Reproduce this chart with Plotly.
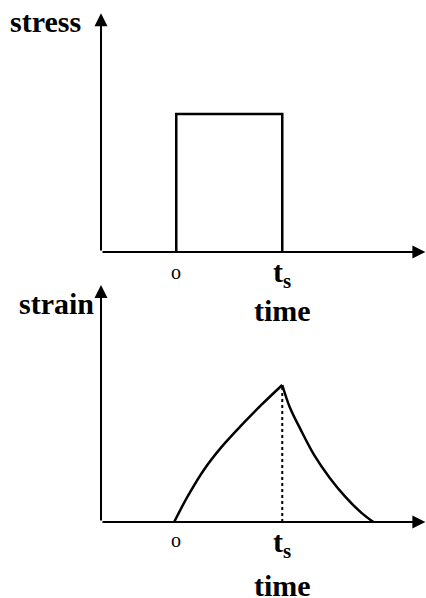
import plotly.graph_objects as go

# stress step (top panel)
t_stress = [0.71, 0.71, 1.71, 1.71]
stress = [0, 1, 1, 0]

# strain response (bottom panel)
t_rise = [0.69, 0.82, 0.97, 1.14, 1.33, 1.52, 1.71]
strain_rise = [0, 0.19, 0.38, 0.55, 0.71, 0.86, 1.0]
t_fall = [1.71, 1.78, 1.88, 2.01, 2.16, 2.31, 2.46, 2.57]
strain_fall = [1.0, 0.84, 0.68, 0.49, 0.32, 0.18, 0.065, 0]

t_on = 0.71
t_s = 1.71
tick_labels = ["o", "t<sub>s</sub>"]
y_names = ["stress", "strain"]
x_name = "time"

W, H = 426, 598
SERIF = "Liberation Serif"
BLACK = "black"

fig = go.Figure()

fig.add_trace(go.Scatter(x=t_stress, y=stress, mode="lines",
                         line=dict(color=BLACK, width=2.5),
                         xaxis="x", yaxis="y", hoverinfo="skip"))
fig.add_trace(go.Scatter(x=t_rise, y=strain_rise, mode="lines",
                         line=dict(color=BLACK, width=2.5, shape="spline", smoothing=1),
                         xaxis="x2", yaxis="y2", hoverinfo="skip"))
fig.add_trace(go.Scatter(x=t_fall, y=strain_fall, mode="lines",
                         line=dict(color=BLACK, width=2.5, shape="spline", smoothing=1),
                         xaxis="x2", yaxis="y2", hoverinfo="skip"))
fig.add_trace(go.Scatter(x=[t_s, t_s], y=[0, strain_rise[-1]], mode="lines",
                         line=dict(color=BLACK, width=2, dash="dot"),
                         xaxis="x2", yaxis="y2", hoverinfo="skip"))

x_dom = [101 / W, 1]
x_rng = [0, 325 / 106]
hidden = dict(showgrid=False, zeroline=False, showline=False,
              showticklabels=False, ticks="")

fig.update_layout(
    width=W, height=H,
    margin=dict(l=0, r=0, t=0, b=0),
    paper_bgcolor="white", plot_bgcolor="rgba(0,0,0,0)",
    showlegend=False,
    xaxis=dict(domain=x_dom, range=x_rng, anchor="y", **hidden),
    yaxis=dict(domain=[(H - 252) / H, 1], range=[0, 252 / 138], anchor="x", **hidden),
    xaxis2=dict(domain=x_dom, range=x_rng, anchor="y2", **hidden),
    yaxis2=dict(domain=[(H - 522) / H, (H - 280) / H], range=[0, 242 / 137], anchor="x2", **hidden),
)

ann = []
# axes drawn as arrows
for xr, yr in [("x", "y"), ("x2", "y2")]:
    ann.append(dict(x=3.06, y=0, ax=0, ay=0, xref=xr, yref=yr, axref=xr, ayref=yr,
                    text="", showarrow=True, arrowhead=2, arrowsize=1.3,
                    arrowwidth=2, arrowcolor=BLACK, standoff=0, startstandoff=0))
    ann.append(dict(x=0, y=1.73, ax=0, ay=0, xref=xr, yref=yr, axref=xr, ayref=yr,
                    text="", showarrow=True, arrowhead=2, arrowsize=1.3,
                    arrowwidth=2, arrowcolor=BLACK, standoff=0, startstandoff=0))

bold = dict(family=SERIF, size=30, color=BLACK)
# axis names
ann.append(dict(x=45 / W, y=1 - 22 / H, xref="paper", yref="paper", text="<b>%s</b>" % y_names[0],
                showarrow=False, font=bold, xanchor="center", yanchor="middle"))
ann.append(dict(x=56 / W, y=1 - 303 / H, xref="paper", yref="paper", text="<b>%s</b>" % y_names[1],
                showarrow=False, font=bold, xanchor="center", yanchor="middle"))

# time ticks and labels for each panel: (xref, y of "o", y of t_s, y of "time")
for xr, yo, yt, ytime in [("x", 272, 274, 310), ("x2", 540, 544, 585)]:
    ann.append(dict(x=t_on, y=1 - yo / H, xref=xr, yref="paper", text=tick_labels[0],
                    showarrow=False, font=dict(family=SERIF, size=20, color=BLACK),
                    xanchor="center", yanchor="middle"))
    ann.append(dict(x=t_s, y=1 - yt / H, xref=xr, yref="paper", text="<b>%s</b>" % tick_labels[1],
                    showarrow=False, font=bold, xanchor="center", yanchor="middle"))
    ann.append(dict(x=t_s, y=1 - ytime / H, xref=xr, yref="paper", text="<b>%s</b>" % x_name,
                    showarrow=False, font=bold, xanchor="center", yanchor="middle"))

fig.update_layout(annotations=ann)

# drop the browser's default page margin so the figure sits at the window corner
fig.write_html("out.html", config={"displayModeBar": False},
               post_script="document.body.style.margin='0';")
